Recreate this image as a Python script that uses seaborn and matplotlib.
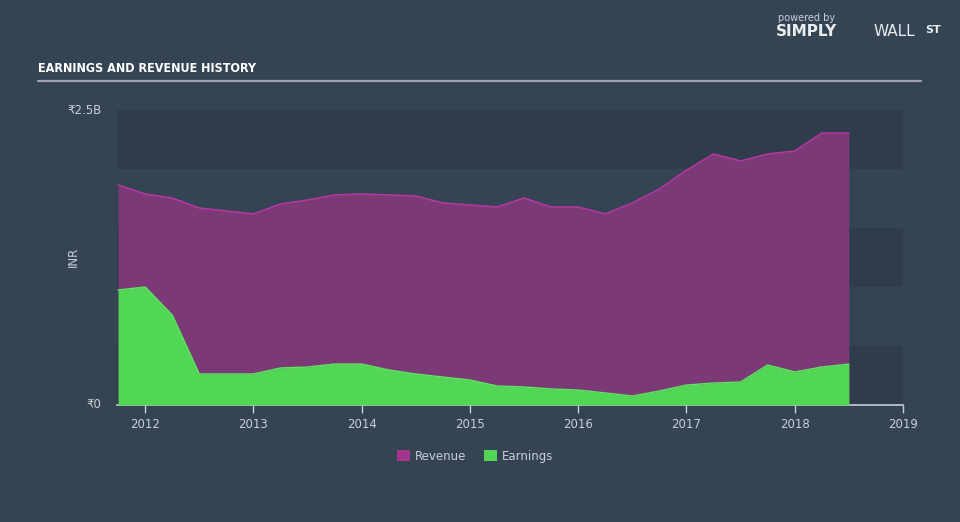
import matplotlib
matplotlib.use("Agg")
import matplotlib.pyplot as plt
import seaborn as sns
import pandas as pd
from matplotlib.patches import Patch

# ---- data (INR billions, quarterly) ----
quarters = [2011.75, 2012.0, 2012.25, 2012.5, 2012.75, 2013.0, 2013.25, 2013.5, 2013.75,
            2014.0, 2014.25, 2014.5, 2014.75, 2015.0, 2015.25, 2015.5, 2015.75,
            2016.0, 2016.25, 2016.5, 2016.75, 2017.0, 2017.25, 2017.5, 2017.75,
            2018.0, 2018.25, 2018.5]
revenue = [1.864, 1.788, 1.754, 1.669, 1.644, 1.619, 1.703, 1.737, 1.780,
           1.788, 1.780, 1.771, 1.712, 1.695, 1.678, 1.754, 1.678,
           1.678, 1.619, 1.712, 1.830, 1.990, 2.127, 2.068, 2.127,
           2.153, 2.305, 2.305]
earnings = [0.975, 1.000, 0.763, 0.263, 0.263, 0.263, 0.314, 0.322, 0.347,
            0.347, 0.297, 0.263, 0.237, 0.212, 0.161, 0.153, 0.136,
            0.127, 0.102, 0.076, 0.119, 0.169, 0.186, 0.195, 0.339,
            0.280, 0.322, 0.347]
year_ticks = [2012, 2013, 2014, 2015, 2016, 2017, 2018, 2019]
y_ticks = [0, 2.5]
y_tick_labels = ["₹0", "₹2.5B"]

df = pd.DataFrame({"t": quarters, "Revenue": revenue, "Earnings": earnings})

BG = "#344453"
BAND = "#2e3c4b"
REV_FILL = "#7b3a75"
REV_LINE = "#b2379f"
EARN_FILL = "#52d655"
EARN_LINE = "#5ee660"
TXT = "#c9cfd6"

sns.set_theme(style="dark")
plt.rcParams["font.family"] = ["DejaVu Sans"]

fig = plt.figure(figsize=(9.6, 5.22), dpi=100, facecolor=BG)
ax = fig.add_axes([117/960, 1-405/522, (903-117)/960, (405-110)/522])
ax.set_facecolor(BG)

for lo in (0.0, 1.0, 2.0):
    ax.axhspan(lo, lo + 0.5, color=BAND, lw=0, zorder=0)

ax.fill_between(df["t"], df["Revenue"], color=REV_FILL, lw=0, zorder=1)
sns.lineplot(data=df, x="t", y="Revenue", color=REV_LINE, lw=1.2, ax=ax, zorder=2)
ax.fill_between(df["t"], df["Earnings"], color=EARN_FILL, lw=0, zorder=3)
sns.lineplot(data=df, x="t", y="Earnings", color=EARN_LINE, lw=1.0, ax=ax, zorder=4)

ax.set_xlim(2011.74, 2019.0)
ax.set_ylim(0, 2.5)
ax.grid(False)
for s in ("top", "right", "left"):
    ax.spines[s].set_visible(False)
ax.spines["bottom"].set_color("#c7ced6")
ax.spines["bottom"].set_linewidth(1.2)

ax.set_xticks(year_ticks)
ax.set_xticklabels([str(y) for y in year_ticks], color=TXT, fontsize=8.5)
ax.tick_params(axis="x", length=6, width=1, color="#c7ced6", pad=3, direction="out", bottom=True)

ax.set_yticks(y_ticks)
ax.set_yticklabels(y_tick_labels, color=TXT, fontsize=8.5)
ax.tick_params(axis="y", length=0, pad=11)
for lab in ax.get_yticklabels():
    lab.set_verticalalignment("center")
ax.set_xlabel("")
ax.set_ylabel("")
fig.text(73/960, 1-257/522, "INR", color=TXT, fontsize=8.5, rotation=90, va="center", ha="center")

# title and underline
fig.text(38/960, 1-68/522, "EARNINGS AND REVENUE HISTORY", color="white",
         fontsize=9, fontweight="bold", fontstretch="condensed", va="center", ha="left")
fig.add_artist(plt.Line2D([38/960, 921/960], [1-81/522, 1-81/522], color="#9aa3ad", lw=1.6))

# branding
fig.text(778/960, 1-18/522, "powered by", color="#c9cfd6", fontsize=7, va="center", ha="left")
fig.text(776/960, 1-32/522, "SIMPLY", color="#e8ecef", fontsize=11, fontweight="bold", va="center", ha="left")
fig.text(874/960, 1-32/522, "WALL", color="#e8ecef", fontsize=11, va="center", ha="left")
fig.text(925/960, 1-30/522, "ST", color="#e8ecef", fontsize=8, fontweight="bold", va="center", ha="left")

# legend
handles = [Patch(facecolor="#a3358f", edgecolor="none", label="Revenue"),
           Patch(facecolor=EARN_FILL, edgecolor="none", label="Earnings")]
leg = fig.legend(handles=handles, loc="center", bbox_to_anchor=(475/960, 1-456/522), ncol=2,
                 frameon=False, fontsize=8.5, handlelength=1.1, handleheight=1.1,
                 columnspacing=1.5, handletextpad=0.4)
for t in leg.get_texts():
    t.set_color(TXT)

fig.savefig("out.png", dpi=100, facecolor=BG)
